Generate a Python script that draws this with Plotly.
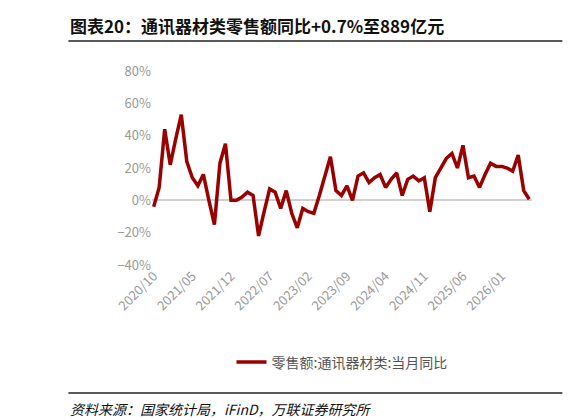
import plotly.graph_objects as go

start_year, start_month = 2020, 10
yoy = [-4, 8, 44, 22, 38, 53, 24, 14, 9, 16, 0, -15, 23, 35, 0, 0, 2, 5, 3, -22,
       -7, 7, 5, -5, 6, -8, -17, -5, -7, -8, 3, 15, 27, 6, 3, 9, 0, 15, 17, 11,
       14, 16, 8, 13, 17, 3, 13, 15, 12, 14, -7, 14, 20, 26, 29, 20, 34, 14, 15, 8,
       16, 23, 21, 21, 20, 18, 28, 6, 0.7]

months = []
for i in range(len(yoy)):
    m = start_month - 1 + i
    months.append(f"{start_year + m // 12}/{m % 12 + 1:02d}")
tick_idx = list(range(0, len(yoy), 7))
tick_text = [months[i] for i in tick_idx]

font = "Noto Sans CJK SC"
fig = go.Figure()
fig.add_trace(go.Scatter(x=list(range(len(yoy))), y=yoy, mode="lines",
                         line=dict(color="#990000", width=3.5),
                         name="零售额:通讯器材类:当月同比"))

fig.update_layout(
    width=582, height=420, paper_bgcolor="white", plot_bgcolor="white",
    margin=dict(l=144, r=58, t=63, b=163),
    font=dict(family=font, color="#808080", size=13),
    showlegend=True,
    legend=dict(orientation="h", x=0.5, xanchor="center", y=-0.42, yanchor="top",
                font=dict(size=14, color="#555")),
    xaxis=dict(tickvals=tick_idx, ticktext=tick_text, tickangle=-45,
               showgrid=False, showline=False, zeroline=False,
               range=[-0.3, len(yoy) - 0.5], tickfont=dict(size=13, color="#999")),
    yaxis=dict(range=[-40, 80], dtick=20, ticksuffix="%", showgrid=False,
               zeroline=True, zerolinecolor="#d0d0d0", zerolinewidth=1.5,
               tickfont=dict(size=13, color="#999")),
)
# header/footer positions in paper units: plot is 194px tall, bottom at 257px
fig.add_annotation(text="<b>图表20：通讯器材类零售额同比+0.7%至889亿元</b>", xref="paper", yref="paper",
                   x=-0.22, y=1.16, yanchor="bottom", xanchor="left",
                   showarrow=False, font=dict(size=17, color="#111"))
fig.add_annotation(text="<i>资料来源：国家统计局，iFinD，万联证券研究所</i>", xref="paper", yref="paper",
                   x=-0.22, y=-0.68, xanchor="left", yanchor="top",
                   showarrow=False, font=dict(size=14, color="#111"))
fig.add_shape(type="line", xref="paper", yref="paper", x0=-0.22, x1=1.08, y0=1.155, y1=1.155,
              line=dict(color="#222", width=1.5))
fig.add_shape(type="line", xref="paper", yref="paper", x0=-0.22, x1=1.08, y0=-0.66, y1=-0.66,
              line=dict(color="#222", width=1.5))
fig.write_html("out.html")
